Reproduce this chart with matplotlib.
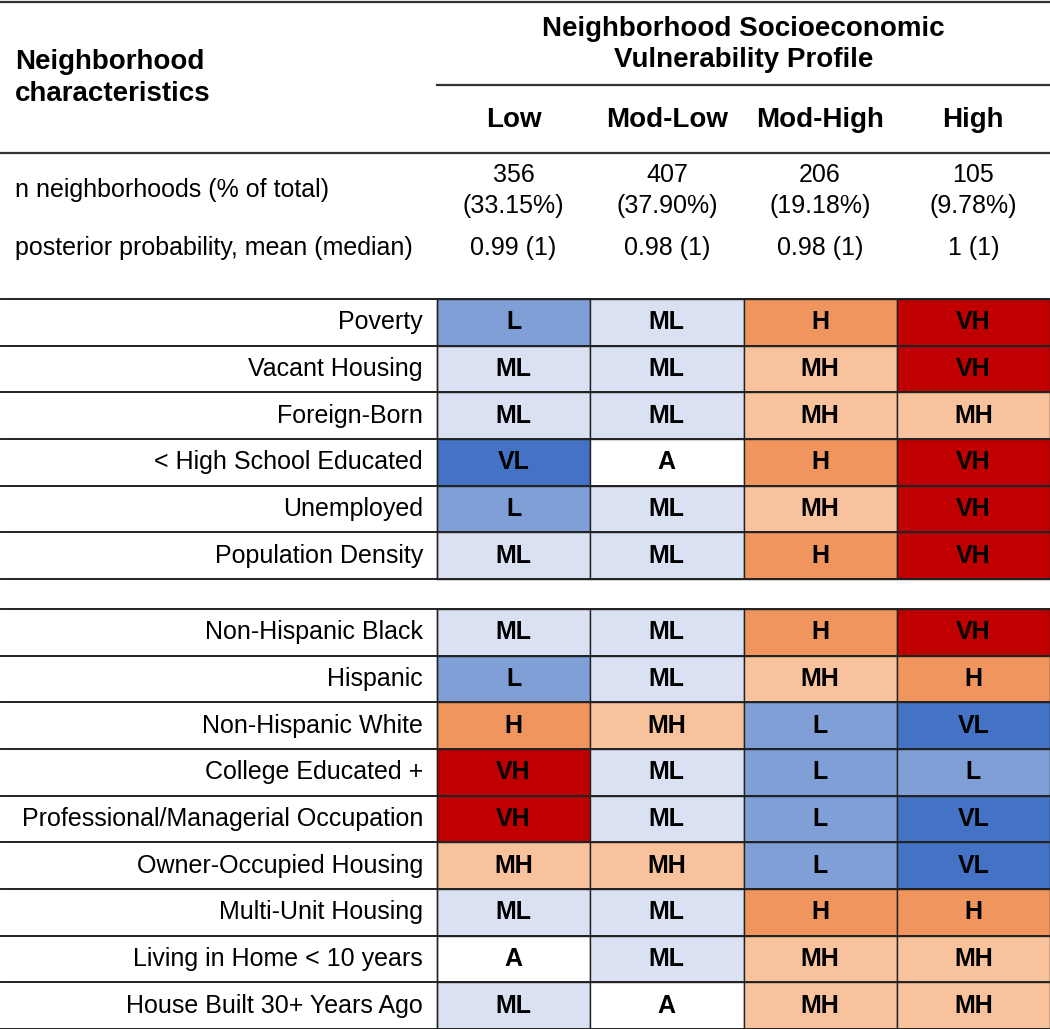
import matplotlib
matplotlib.use("Agg")
import matplotlib.pyplot as plt
from matplotlib.patches import Rectangle

plt.rcParams["font.family"] = ["Liberation Sans", "DejaVu Sans"]

# --- data ---
profiles = ["Low", "Mod-Low", "Mod-High", "High"]
n_counts = ["356", "407", "206", "105"]
n_pcts = ["(33.15%)", "(37.90%)", "(19.18%)", "(9.78%)"]
posterior = ["0.99 (1)", "0.98 (1)", "0.98 (1)", "1 (1)"]

group1_labels = ["Poverty", "Vacant Housing", "Foreign-Born", "< High School Educated",
                 "Unemployed", "Population Density"]
group1_levels = [
    ["L", "ML", "H", "VH"],
    ["ML", "ML", "MH", "VH"],
    ["ML", "ML", "MH", "MH"],
    ["VL", "A", "H", "VH"],
    ["L", "ML", "MH", "VH"],
    ["ML", "ML", "H", "VH"],
]

group2_labels = ["Non-Hispanic Black", "Hispanic", "Non-Hispanic White", "College Educated +",
                 "Professional/Managerial Occupation", "Owner-Occupied Housing",
                 "Multi-Unit Housing", "Living in Home < 10 years", "House Built 30+ Years Ago"]
group2_levels = [
    ["ML", "ML", "H", "VH"],
    ["L", "ML", "MH", "H"],
    ["H", "MH", "L", "VL"],
    ["VH", "ML", "L", "L"],
    ["VH", "ML", "L", "VL"],
    ["MH", "MH", "L", "VL"],
    ["ML", "ML", "H", "H"],
    ["A", "ML", "MH", "MH"],
    ["ML", "A", "MH", "MH"],
]

level_colors = {
    "VL": "#4472C4",
    "L": "#7F9FD6",
    "ML": "#DAE1F2",
    "A": "#FFFFFF",
    "MH": "#F8C29D",
    "H": "#F0955D",
    "VH": "#C00000",
}

# --- layout (pixels) ---
W, H = 1050, 1029
label_right = 437
col_w = (W - label_right) / 4
row_h = 46.67
g1_top = 299
g2_top = 609
fs = 18
fs_head = 20

fig = plt.figure(figsize=(W / 100, H / 100), dpi=100)
ax = fig.add_axes([0, 0, 1, 1])
ax.set_xlim(0, W)
ax.set_ylim(H, 0)
ax.axis("off")

def col_center(j):
    return label_right + col_w * (j + 0.5)

# header
ax.plot([1, W], [2, 2], color="#333333", lw=1.6)
ax.text(15, 62, "Neighborhood", fontsize=fs_head, fontweight="bold", va="center", ha="left")
ax.text(15, 94, "characteristics", fontsize=fs_head, fontweight="bold", va="center", ha="left")
ax.text((label_right + W) / 2, 29, "Neighborhood Socioeconomic", fontsize=fs_head,
        fontweight="bold", va="center", ha="center")
ax.text((label_right + W) / 2, 60, "Vulnerability Profile", fontsize=fs_head,
        fontweight="bold", va="center", ha="center")
ax.plot([label_right, W], [85, 85], color="#333333", lw=1.6)
for j, p in enumerate(profiles):
    ax.text(col_center(j), 120, p, fontsize=fs_head, fontweight="bold", va="center", ha="center")
ax.plot([1, W], [153, 153], color="#333333", lw=1.6)

ax.text(15, 190, "n neighborhoods (% of total)", fontsize=fs, va="center", ha="left")
ax.text(15, 248, "posterior probability, mean (median)", fontsize=fs, va="center", ha="left")
for j in range(4):
    ax.text(col_center(j), 175, n_counts[j], fontsize=fs, va="center", ha="center")
    ax.text(col_center(j), 206, n_pcts[j], fontsize=fs, va="center", ha="center")
    ax.text(col_center(j), 248, posterior[j], fontsize=fs, va="center", ha="center")

def draw_group(top, labels, levels):
    for i, (lab, row) in enumerate(zip(labels, levels)):
        y0 = top + i * row_h
        ax.text(label_right - 14, y0 + row_h / 2, lab, fontsize=fs, va="center", ha="right")
        for j, lv in enumerate(row):
            x0 = label_right + j * col_w
            ax.add_patch(Rectangle((x0, y0), col_w, row_h, facecolor=level_colors[lv],
                                   edgecolor="#222222", lw=1.0))
            ax.text(x0 + col_w / 2, y0 + row_h / 2, lv, fontsize=fs, fontweight="bold",
                    va="center", ha="center", color="black")
    for i in range(len(labels) + 1):
        y = top + i * row_h
        ax.plot([1, W], [y, y], color="#222222", lw=1.4)
    ax.plot([label_right, label_right], [top, top + len(labels) * row_h], color="#222222", lw=1.0)

draw_group(g1_top, group1_labels, group1_levels)
draw_group(g2_top, group2_labels, group2_levels)

fig.savefig("out.png", dpi=100)
